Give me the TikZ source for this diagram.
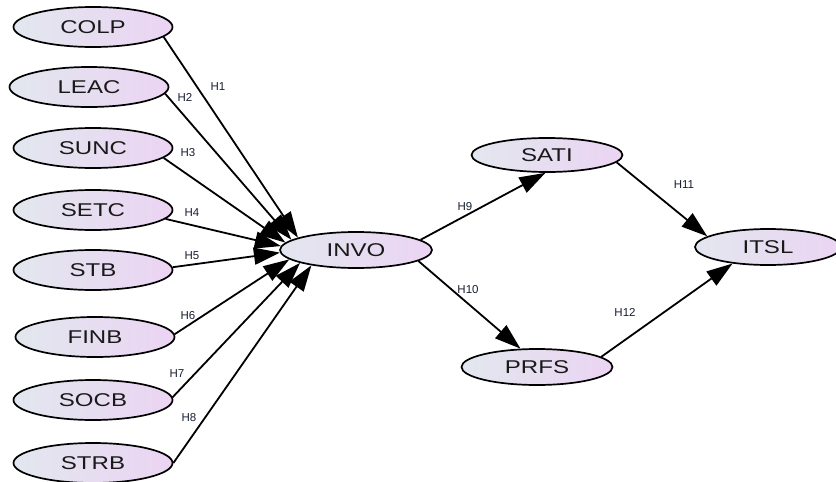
\documentclass[tikz,border=0pt]{standalone}
\usepackage{fontspec}
\usepackage{graphicx}
\setmainfont{Liberation Sans}
\usetikzlibrary{shapes.geometric,arrows.meta}
\definecolor{shadeL}{RGB}{226,231,238}
\definecolor{shadeR}{RGB}{235,212,243}
\definecolor{labcol}{RGB}{22,30,48}
\definecolor{txtcol}{RGB}{25,25,25}
\newcommand{\wtxt}[1]{\scalebox{1.3}[1]{#1}}
\tikzset{
  construct/.style={ellipse, draw=black, line width=1.7pt, left color=shadeL, right color=shadeR,
    inner sep=0pt, minimum width=159pt, minimum height=40pt,
    font=\fontsize{18.5}{20}\selectfont, text=txtcol},
  smallc/.style={construct, minimum width=152pt, minimum height=36pt},
  path/.style={line width=1.8pt, -{Triangle[length=26pt,width=17pt]}},
  hyp/.style={font=\fontsize{11.5}{12}\selectfont, text=labcol, inner sep=0pt}
}
\begin{document}
\begin{tikzpicture}[x=1pt,y=-1pt]
\useasboundingbox (0,0) rectangle (836,482);
% left constructs
\node[construct] (colp) at (93,27) {\wtxt{COLP}};
\node[construct] (leac) at (89,87) {\wtxt{LEAC}};
\node[construct] (sunc) at (93,148) {\wtxt{SUNC}};
\node[construct] (setc) at (93,210) {\wtxt{SETC}};
\node[construct] (stb) at (93,270) {\wtxt{STB}};
\node[construct] (finb) at (95,337) {\wtxt{FINB}};
\node[construct] (socb) at (93,400) {\wtxt{SOCB}};
\node[construct] (strb) at (93,463) {\wtxt{STRB}};
% middle and right
\node[smallc] (invo) at (356,250) {\wtxt{INVO}};
\node[smallc, minimum width=151pt, minimum height=34pt] (sati) at (547,155) {\wtxt{SATI}};
\node[smallc, minimum width=151pt] (prfs) at (537,367) {\wtxt{PRFS}};
\node[smallc, minimum width=146pt] (itsl) at (768,247) {\wtxt{ITSL}};
% paths
\draw[path] (colp.-8) -- (invo.168);
\draw[path] (leac.-5) -- (invo.171);
\draw[path] (sunc.-8) -- (invo.174);
\draw[path] (setc.-7) -- (invo.177);
\draw[path] (stb.2) -- (invo.182);
\draw[path] (finb.2) -- (invo.188);
\draw[path] (socb.2) -- (invo.193);
\draw[path] (strb.0) -- (invo.199);
\draw[path] (invo.9) -- (sati.265);
\draw[path] (invo.-10) -- (prfs.132);
\draw[path] (sati.-6) -- (itsl.170);
\draw[path] (prfs.9) -- (itsl.205);
% labels
\node[hyp] (h1) at (218,87) {H1};
\node[hyp] (h2) at (185,97) {H2};
\node[hyp] (h3) at (188,153) {H3};
\node[hyp] (h4) at (192,213) {H4};
\node[hyp] (h5) at (192,256) {H5};
\node[hyp] (h6) at (188,316) {H6};
\node[hyp] (h7) at (177,374) {H7};
\node[hyp] (h8) at (189,418) {H8};
\node[hyp] (h9) at (465,207) {H9};
\node[hyp] (h10) at (468,290) {H10};
\node[hyp] (h11) at (684,185) {H11};
\node[hyp] (h12) at (625,312) {H12};
\end{tikzpicture}
\end{document}
